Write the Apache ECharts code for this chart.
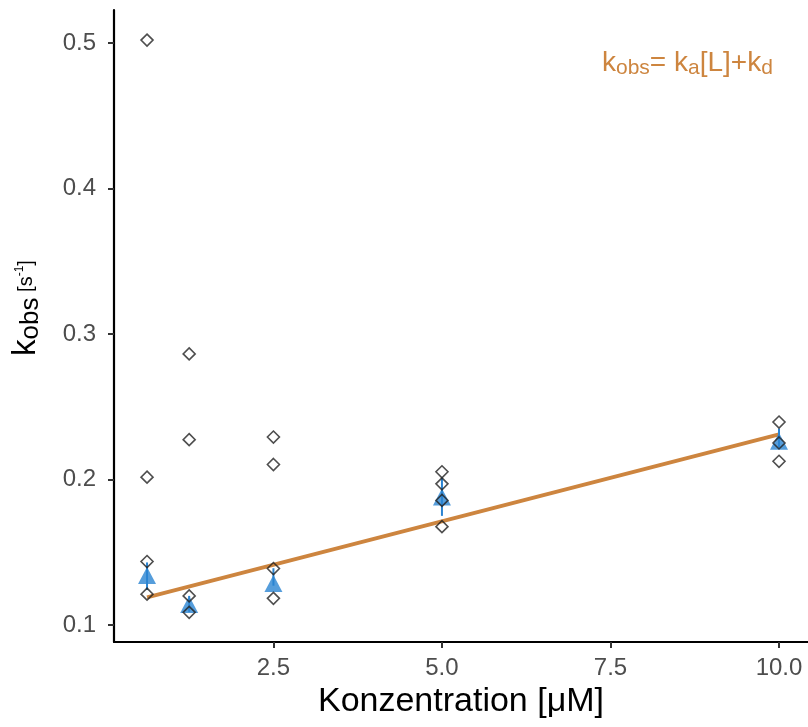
<!DOCTYPE html>
<html>
<head>
<meta charset="utf-8">
<script src="https://cdn.jsdelivr.net/npm/echarts@6/dist/echarts.min.js"></script>
<style>
  html, body { margin: 0; padding: 0; background: #fff; }
  #main { width: 808px; height: 727px; }
</style>
</head>
<body>
<div id="main"></div>
<script>
// concentrations [µM]
const conc = [0.625, 1.25, 2.5, 5, 10];
// single measurements (open diamonds), one list per concentration
const reps = [
  [0.502, 0.2016, 0.1436, 0.1212],
  [0.2863, 0.2274, 0.120, 0.1087],
  [0.2292, 0.2103, 0.1388, 0.1183],
  [0.2053, 0.197, 0.1856, 0.1676],
  [0.2395, 0.2251, 0.2125]
];
// summary points (blue triangles) and their error bars
const meanK = [0.134, 0.114, 0.1285, 0.188, 0.2263];
const errLow = [0.124, 0.109, 0.127, 0.175, 0.222];
const errHigh = [0.143, 0.120, 0.139, 0.201, 0.235];
// fitted line kobs = ka[L] + kd
const fitX = [0.625, 10];
const fitY = [0.119, 0.231];
// tick labels
const xTicks = [2.5, 5.0, 7.5, 10.0];
const yTicks = [0.1, 0.2, 0.3, 0.4, 0.5];

const blue = '#2a84d2';
const orange = '#cd853f';
const font = 'Arial, "Liberation Sans", sans-serif';

let chart = echarts.init(document.getElementById('main'));

let diamondData = [];
reps.forEach((vals, i) => {
  vals.forEach(v => diamondData.push([conc[i], v]));
});

let option = {
  animation: false,
  grid: { left: 114, right: 0, top: 10, bottom: 85 },
  xAxis: {
    type: 'value',
    min: 0.135,
    max: 10.43,
    name: 'Konzentration [\u03bcM]',
    nameLocation: 'middle',
    nameGap: 42,
    nameTextStyle: { fontSize: 34, color: '#000', fontFamily: font },
    axisLine: { show: true, onZero: false, lineStyle: { color: '#000', width: 2.2 } },
    axisTick: { show: true, length: 6, lineStyle: { color: '#333', width: 2 }, customValues: xTicks },
    axisLabel: {
      customValues: xTicks,
      formatter: v => v.toFixed(1),
      fontSize: 24, color: '#4d4d4d', margin: 14, fontFamily: font
    },
    splitLine: { show: false }
  },
  yAxis: {
    type: 'value',
    min: 0.0883,
    max: 0.5227,
    axisLine: { show: true, onZero: false, lineStyle: { color: '#000', width: 2.2 } },
    axisTick: { show: true, length: 6, lineStyle: { color: '#333', width: 2 }, customValues: yTicks },
    axisLabel: {
      customValues: yTicks,
      formatter: v => v.toFixed(1),
      fontSize: 24, color: '#4d4d4d', margin: 18, fontFamily: font
    },
    splitLine: { show: false }
  },
  graphic: [
    {
      type: 'text',
      x: 26, y: 308,
      rotation: Math.PI / 2,
      style: {
        text: '{k|k}{sub|obs}{br| [s}{sup|-1}{br|]}',
        align: 'center',
        verticalAlign: 'middle',
        fill: '#000',
        rich: {
          k: { fontSize: 33, fontFamily: font, fill: '#000' },
          sub: { fontSize: 26, fontFamily: font, fill: '#000', padding: [10, 0, 0, 0] },
          br: { fontSize: 20, fontFamily: font, fill: '#000' },
          sup: { fontSize: 12, fontFamily: font, fill: '#000', padding: [0, 0, 13, 0] }
        }
      }
    },
    {
      type: 'text',
      left: 602, top: 49,
      style: {
        text: '{k|k}{sub|obs}{k|= k}{sub|a}{k|[L]+k}{sub|d}',
        fill: orange,
        rich: {
          k: { fontSize: 28, fontFamily: font, fill: orange },
          sub: { fontSize: 21, fontFamily: font, fill: orange, padding: [10, 0, 0, 0] }
        }
      }
    }
  ],
  series: [
    {
      name: 'fit',
      type: 'line',
      data: fitX.map((x, i) => [x, fitY[i]]),
      showSymbol: false,
      lineStyle: { color: orange, width: 3.8 },
      z: 2
    },
    {
      name: 'error',
      type: 'custom',
      data: conc.map((x, i) => [x, errLow[i], errHigh[i]]),
      renderItem: function (params, api) {
        let p1 = api.coord([api.value(0), api.value(1)]);
        let p2 = api.coord([api.value(0), api.value(2)]);
        return {
          type: 'line',
          shape: { x1: p1[0], y1: p1[1], x2: p2[0], y2: p2[1] },
          style: { stroke: blue, lineWidth: 2 }
        };
      },
      z: 3
    },
    {
      name: 'mean',
      type: 'scatter',
      data: conc.map((x, i) => [x, meanK[i]]),
      symbol: 'triangle',
      symbolSize: [18, 17],
      itemStyle: { color: blue },
      z: 4
    },
    {
      name: 'replicates',
      type: 'scatter',
      data: diamondData,
      symbol: 'diamond',
      symbolSize: [12, 12],
      itemStyle: { color: 'rgba(0,0,0,0)', borderColor: '#222', borderWidth: 1.6 },
      z: 5
    }
  ]
};

chart.setOption(option);
</script>
</body>
</html>
